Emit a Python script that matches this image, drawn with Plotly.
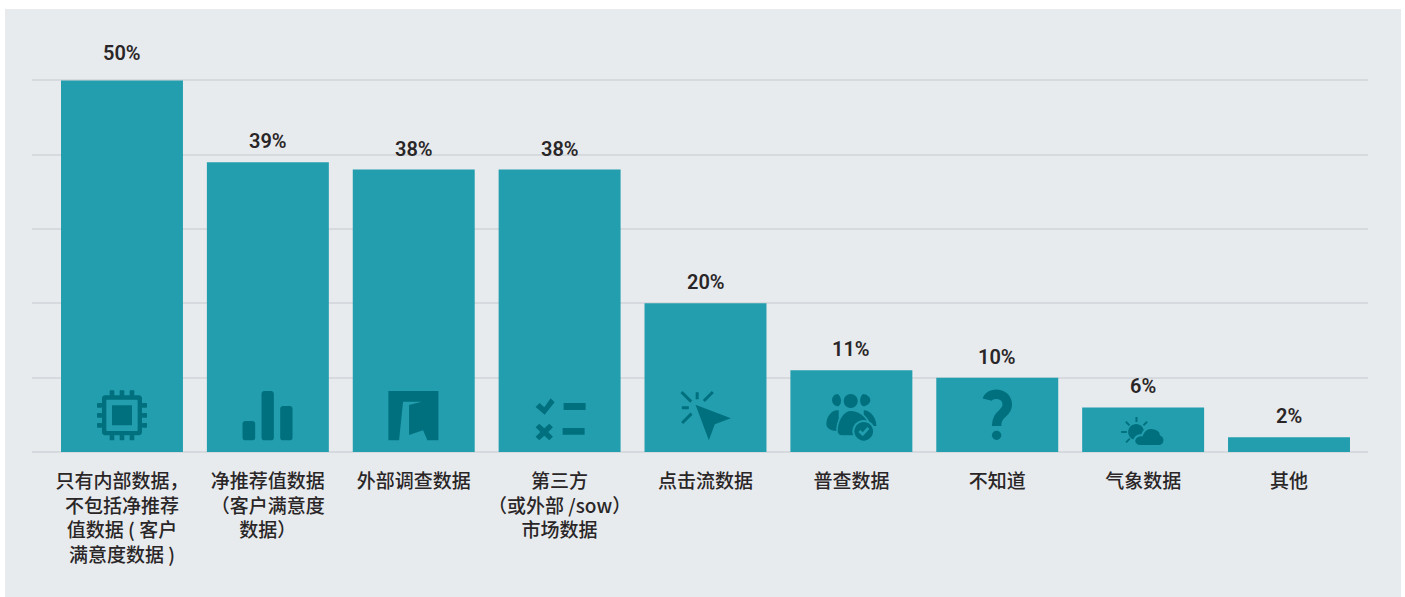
import math
import plotly.graph_objects as go

# Survey results: share of respondents per data source
categories = [
    "只有内部数据，<br>不包括净推荐<br>值数据 ( 客户<br>满意度数据 )",
    "净推荐值数据<br>（客户满意度<br>数据）",
    "外部调查数据",
    "第三方<br>（或外部 /sow）<br>市场数据",
    "点击流数据",
    "普查数据",
    "不知道",
    "气象数据",
    "其他",
]
values = [50, 39, 38, 38, 20, 11, 10, 6, 2]
y_ticks = [0, 10, 20, 30, 40, 50]

W, H = 1405, 597
PLOT_L, PLOT_R, PLOT_T, PLOT_B = 32, 1368, 70, 451.6
PX_PER_POINT = 7.424  # vertical scale; headroom above 50 keeps the top gridline drawn
BAR = "#239EAE"
ICON = "#00707E"
PANEL = "#E8EBEE"
GRID = "#D6D9DD"
INK = "#2A2627"
UNIT = 1 / 3  # icon outlines are authored on a 3x grid


def pt(x, y, ox, oy):
    """Icon-grid point to pixel offsets from the bar's foot (y up)."""
    return f"{(x - ox) * UNIT:.2f} {-(y - oy) * UNIT:.2f}"


def poly(points, ox, oy):
    return "M " + " L ".join(pt(x, y, ox, oy) for x, y in points) + " Z"


def rrect(x0, y0, x1, y1, r, ox, oy):
    k = r * 0.45
    return (
        f"M {pt(x0 + r, y0, ox, oy)} L {pt(x1 - r, y0, ox, oy)} "
        f"C {pt(x1 - k, y0, ox, oy)} {pt(x1, y0 + k, ox, oy)} {pt(x1, y0 + r, ox, oy)} "
        f"L {pt(x1, y1 - r, ox, oy)} "
        f"C {pt(x1, y1 - k, ox, oy)} {pt(x1 - k, y1, ox, oy)} {pt(x1 - r, y1, ox, oy)} "
        f"L {pt(x0 + r, y1, ox, oy)} "
        f"C {pt(x0 + k, y1, ox, oy)} {pt(x0, y1 - k, ox, oy)} {pt(x0, y1 - r, ox, oy)} "
        f"L {pt(x0, y0 + r, ox, oy)} "
        f"C {pt(x0, y0 + k, ox, oy)} {pt(x0 + k, y0, ox, oy)} {pt(x0 + r, y0, ox, oy)} Z"
    )


def circle(cx, cy, r, ox, oy):
    return rrect(cx - r, cy - r, cx + r, cy + r, r, ox, oy)


def seg(x0, y0, x1, y1, w, ox, oy):
    d = math.hypot(x1 - x0, y1 - y0)
    nx, ny = -(y1 - y0) / d * w / 2, (x1 - x0) / d * w / 2
    return poly([(x0 + nx, y0 + ny), (x1 + nx, y1 + ny), (x1 - nx, y1 - ny), (x0 - nx, y0 - ny)], ox, oy)


def curve(cmds, ox, oy):
    """cmds: list of (letter, [(x, y), ...]) path pieces on the icon grid."""
    out = []
    for letter, pts in cmds:
        out.append(letter + " " + " ".join(pt(x, y, ox, oy) for x, y in pts))
    return " ".join(out)


def glyph(i, path, fill=ICON, line=None, width=0):
    return dict(
        type="path", path=path, layer="above",
        xref="x", yref="y", xsizemode="pixel", ysizemode="pixel",
        xanchor=categories[i], yanchor=0,
        fillcolor=fill if fill else "rgba(0,0,0,0)",
        line=dict(color=line if line else "rgba(0,0,0,0)", width=width),
    )


shapes = [
    dict(type="rect", layer="below", xref="paper", yref="paper",
         x0=(5 - PLOT_L) / (PLOT_R - PLOT_L), x1=(1401 - PLOT_L) / (PLOT_R - PLOT_L),
         y0=(PLOT_B - 597) / (PLOT_B - PLOT_T), y1=(PLOT_B - 9) / (PLOT_B - PLOT_T),
         fillcolor=PANEL, line=dict(width=0)),
]

# Chip
ox, oy = 246, 243
p = rrect(186, 73, 306, 193, 9, ox, oy) + " " + rrect(199, 86, 293, 180, 3, ox, oy)
p += " " + rrect(216, 103, 276, 163, 1, ox, oy)
for c in (-30, 0, 30):
    p += " " + rrect(171, 133 + c - 7, 186, 133 + c + 7, 2, ox, oy)
    p += " " + rrect(306, 133 + c - 7, 321, 133 + c + 7, 2, ox, oy)
    p += " " + rrect(246 + c - 7, 58, 246 + c + 7, 73, 2, ox, oy)
    p += " " + rrect(246 + c - 7, 193, 246 + c + 7, 208, 2, ox, oy)
shapes.append(glyph(0, p))

# Bar chart
ox, oy = 684, 243
shapes.append(glyph(1, " ".join([
    rrect(608, 150, 646, 208, 8, ox, oy),
    rrect(665, 60, 702, 208, 8, ox, oy),
    rrect(721, 105, 758, 208, 8, ox, oy),
])))

# Folded map
ox, oy = 1122, 243
shapes.append(glyph(2, poly([
    (1046, 60), (1196, 60), (1196, 208), (1163, 208), (1150, 178), (1108, 192),
    (1108, 102), (1146, 92), (1090, 92), (1078, 208), (1046, 208)], ox, oy)))

# Checklist
ox, oy = 237, 243
shapes.append(glyph(3, " ".join([
    poly([(165, 108), (177, 96), (191, 109), (210, 82), (222, 94), (192, 131)], ox, oy),
    rrect(249, 96, 315, 117, 0, ox, oy),
    poly([(165, 169), (176, 158), (191, 172), (206, 158), (217, 169), (203, 183),
          (217, 197), (206, 208), (191, 194), (176, 208), (165, 197), (179, 183)], ox, oy),
    rrect(246, 171, 312, 191, 0, ox, oy),
])))

# Cursor with click rays
ox, oy = 675, 243
shapes.append(glyph(4, " ".join([
    poly([(645, 101), (751, 142), (703, 160), (685, 208)], ox, oy),
    seg(603, 63, 632, 92, 9, ox, oy),
    seg(650, 64, 650, 85, 9, ox, oy),
    seg(697, 63, 670, 90, 9, ox, oy),
    seg(604, 110, 625, 110, 9, ox, oy),
    seg(605, 156, 633, 128, 9, ox, oy),
])))

# People with a tick badge
ox, oy = 1113, 243
shapes.append(glyph(5, curve([
    ("M", [(1070, 180)]),
    ("C", [(1050, 180), (1038, 172), (1038, 160)]),
    ("C", [(1038, 135), (1055, 115), (1075, 118)]),
    ("L", [(1075, 150)]), ("Z", []),
    ("M", [(1150, 118)]),
    ("C", [(1170, 118), (1188, 140), (1188, 165)]),
    ("L", [(1150, 165)]), ("Z", []),
], ox, oy)))
shapes.append(glyph(5, curve([
    ("M", [(1072, 69)]),
    ("C", [(1062, 69), (1055, 78), (1055, 87)]),
    ("C", [(1055, 97), (1063, 106), (1074, 106)]),
    ("C", [(1085, 100), (1085, 78), (1072, 69)]), ("Z", []),
    ("M", [(1148, 69)]),
    ("C", [(1158, 69), (1170, 78), (1170, 87)]),
    ("C", [(1170, 97), (1158, 106), (1148, 106)]),
    ("C", [(1136, 100), (1136, 78), (1148, 69)]), ("Z", []),
], ox, oy)))
shapes.append(glyph(5, circle(1111, 90, 21, ox, oy)))
shapes.append(glyph(5, curve([
    ("M", [(1085, 195)]),
    ("C", [(1074, 195), (1068, 188), (1070, 172)]),
    ("C", [(1074, 140), (1092, 118), (1111, 118)]),
    ("C", [(1135, 118), (1160, 135), (1170, 165)]),
    ("L", [(1150, 195)]), ("Z", []),
], ox, oy), line=BAR, width=1.5))
shapes.append(glyph(5, circle(1150, 181, 34, ox, oy), fill=BAR))
shapes.append(glyph(5, circle(1150, 181, 28, ox, oy)))
shapes.append(glyph(5, poly([(1134, 183), (1140, 177), (1147, 184), (1161, 168),
                             (1167, 174), (1147, 196)], ox, oy), fill=BAR))

# Question mark
ox, oy = 231, 333
shapes.append(glyph(6, curve([
    ("M", [(201, 176)]),
    ("C", [(207, 152), (261, 152), (261, 192)]),
    ("C", [(261, 218), (229, 216), (229, 255)]),
], ox, oy), fill=None, line=ICON, width=9.5))
shapes.append(glyph(6, circle(229, 283, 14, ox, oy)))

# Sun behind a cloud
ox, oy = 669, 333
shapes.append(glyph(7, " ".join([
    circle(648, 273, 24, ox, oy),
    seg(649, 228, 649, 243, 6, ox, oy),
    seg(617, 242, 628, 253, 6, ox, oy),
    seg(681, 242, 670, 253, 6, ox, oy),
    seg(603, 273, 620, 273, 6, ox, oy),
    seg(618, 304, 629, 293, 6, ox, oy),
])))
shapes.append(glyph(7, curve([
    ("M", [(660, 315)]),
    ("C", [(645, 315), (638, 300), (645, 292)]),
    ("C", [(650, 283), (660, 282), (665, 283)]),
    ("C", [(670, 265), (685, 260), (695, 261)]),
    ("C", [(712, 262), (722, 272), (722, 281)]),
    ("C", [(730, 285), (733, 292), (733, 298)]),
    ("C", [(733, 308), (725, 315), (715, 315)]),
    ("Z", []),
], ox, oy), line=BAR, width=2))

# Percentage labels sit a fixed distance above each bar, a little higher on the tallest
annotations = [
    dict(x=c, y=v, xref="x", yref="y", text=f"{v}%", showarrow=False,
         yanchor="middle", yshift=27 if v == max(values) else 21,
         font=dict(family="Roboto, sans-serif", size=20, weight=600, color=INK))
    for c, v in zip(categories, values)
]

fig = go.Figure(go.Bar(
    x=categories, y=values, width=0.836,
    marker=dict(color=BAR, line=dict(width=0)),
    hoverinfo="x+y",
))
unit_px = 145.9
fig.update_layout(
    width=W, height=H,
    margin=dict(l=PLOT_L, r=W - PLOT_R, t=PLOT_T, b=H - PLOT_B, pad=0),
    paper_bgcolor="white", plot_bgcolor="rgba(0,0,0,0)",
    showlegend=False, shapes=shapes, annotations=annotations,
    xaxis=dict(
        type="category", categoryorder="array", categoryarray=categories,
        range=[(PLOT_L - 122) / unit_px, 8 + (PLOT_R - 1289) / unit_px],
        showgrid=False, zeroline=False, showline=False, ticks="",
        tickangle=0, ticklabelstandoff=16,
        tickfont=dict(family="Noto Sans CJK SC, sans-serif", size=19, weight=500, color=INK),
    ),
    yaxis=dict(
        range=[0, (PLOT_B - PLOT_T) / PX_PER_POINT], tickvals=y_ticks, showticklabels=False,
        showgrid=True, gridcolor=GRID, gridwidth=1.5,
        zeroline=True, zerolinecolor=GRID, zerolinewidth=1.5, showline=False,
    ),
)
fig.write_html("out.html", config=dict(displayModeBar=False))
